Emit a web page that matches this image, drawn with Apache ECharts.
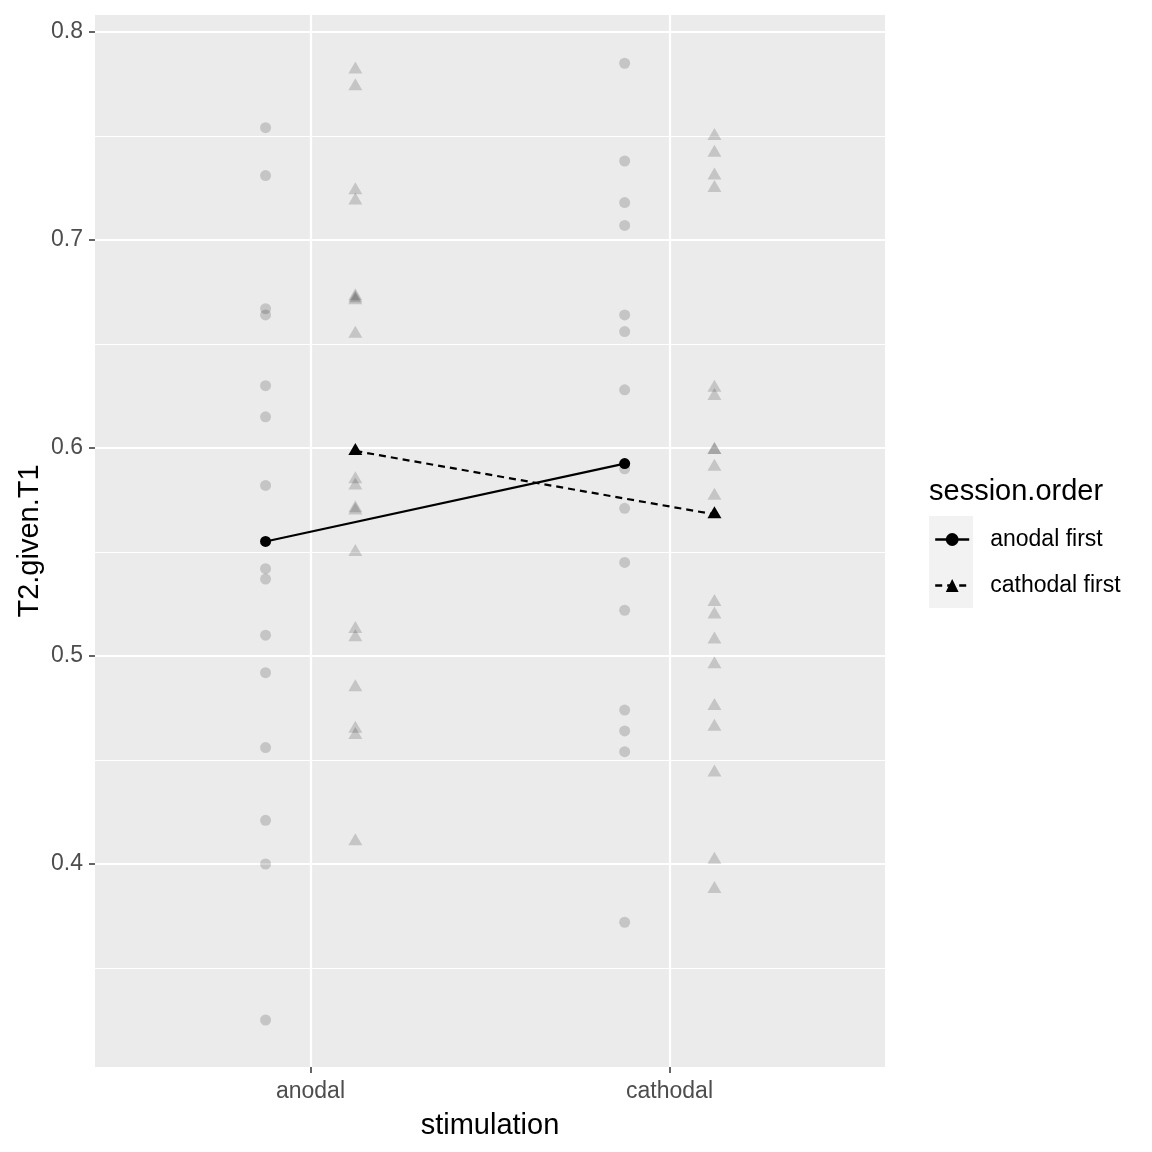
<!DOCTYPE html>
<html>
<head>
<meta charset="utf-8">
<script src="https://cdn.jsdelivr.net/npm/echarts@6/dist/echarts.min.js"></script>
<style>
html,body{margin:0;padding:0;background:#fff;}
#chart{width:1152px;height:1152px;}
</style>
</head>
<body>
<div id="chart"></div>
<script>
// ---- data ----
const categories = ['anodal', 'cathodal'];
const groups = ['anodal first', 'cathodal first'];
const yTicks = [0.4, 0.5, 0.6, 0.7, 0.8];
const yMinor = [0.35, 0.45, 0.55, 0.65, 0.75];

const anodalFirstAnodal = [0.754, 0.731, 0.667, 0.664, 0.630, 0.615, 0.582, 0.542, 0.537, 0.510, 0.492, 0.456, 0.421, 0.400, 0.325];
const anodalFirstCathodal = [0.785, 0.738, 0.718, 0.707, 0.664, 0.656, 0.628, 0.590, 0.571, 0.545, 0.522, 0.474, 0.464, 0.454, 0.372];
const cathodalFirstAnodal = [0.782, 0.774, 0.724, 0.719, 0.673, 0.672, 0.671, 0.655, 0.585, 0.582, 0.571, 0.570, 0.550, 0.513, 0.509, 0.485, 0.465, 0.462, 0.411];
const cathodalFirstCathodal = [0.750, 0.742, 0.731, 0.725, 0.629, 0.625, 0.599, 0.599, 0.591, 0.577, 0.526, 0.520, 0.508, 0.496, 0.476, 0.466, 0.444, 0.402, 0.388];

// ---- helpers ----
const dodge = 0.125;
function xPos(catIdx, groupIdx) { return catIdx + 1 + (groupIdx === 0 ? -dodge : dodge); }
function mean(a) { return a.reduce((s, v) => s + v, 0) / a.length; }
function pts(arr, catIdx, groupIdx) { return arr.map(v => [xPos(catIdx, groupIdx), v]); }

const pointColor = 'rgba(0,0,0,0.2)';
const triSize = [14, 12];
const triOffset = [0, -2];
const FONT = 'Liberation Sans, Arial, sans-serif';

const chart = echarts.init(document.getElementById('chart'), null, {renderer: 'canvas'});

const gridLines = [];
yMinor.forEach(v => gridLines.push({yAxis: v, lineStyle: {color: '#fff', width: 1.1, type: 'solid'}}));
yTicks.forEach(v => gridLines.push({yAxis: v, lineStyle: {color: '#fff', width: 2.2, type: 'solid'}}));
categories.forEach((c, i) => gridLines.push({xAxis: i + 1, lineStyle: {color: '#fff', width: 2.2, type: 'solid'}}));

const option = {
  animation: false,
  backgroundColor: '#fff',
  textStyle: {fontFamily: FONT},
  grid: {left: 95, top: 15, width: 790, height: 1052, show: true, backgroundColor: '#EBEBEB', borderWidth: 0},
  xAxis: {
    type: 'value', min: 0.4, max: 2.6,
    splitLine: {show: false},
    axisLine: {show: false},
    axisTick: {show: true, length: 6, lineStyle: {color: '#333333', width: 1.5}, customValues: [1, 2]},
    axisLabel: {customValues: [1, 2], formatter: v => categories[Math.round(v) - 1] || '', color: '#4D4D4D', fontSize: 23, margin: 13},
    name: 'stimulation', nameLocation: 'middle', nameGap: 44, nameMoveOverlap: false,
    nameTextStyle: {color: '#000', fontSize: 29}
  },
  yAxis: {
    type: 'value', min: 0.3024, max: 0.8082,
    splitLine: {show: false},
    axisLine: {show: false},
    axisTick: {show: true, length: 6, lineStyle: {color: '#333333', width: 1.5}, customValues: yTicks},
    axisLabel: {customValues: yTicks, formatter: v => v.toFixed(1), color: '#4D4D4D', fontSize: 23, margin: 12},
    name: 'T2.given.T1', nameLocation: 'middle', nameGap: 51, nameMoveOverlap: false,
    nameTextStyle: {color: '#000', fontSize: 29}
  },
  legend: {
    data: groups,
    orient: 'vertical',
    left: 934, top: 528,
    itemWidth: 34, itemHeight: 16, itemGap: 23,
    padding: 0,
    z: 10,
    lineStyle: {width: 2.4},
    textStyle: {color: '#000', fontSize: 23, padding: [0, 0, 0, 16]}
  },
  graphic: [
    {type: 'text', x: 929, y: 492, z: 10, style: {text: 'session.order', fontSize: 29, fill: '#000', fontFamily: FONT, verticalAlign: 'middle', align: 'left'}},
    {type: 'rect', shape: {x: 929, y: 516, width: 44, height: 46}, style: {fill: '#F2F2F2'}, z: 0},
    {type: 'rect', shape: {x: 929, y: 562, width: 44, height: 46}, style: {fill: '#F2F2F2'}, z: 0}
  ],
  series: [
    {
      name: 'grid', type: 'scatter', data: [], z: 1, silent: true,
      markLine: {silent: true, z: 1, symbol: ['none', 'none'], label: {show: false}, animation: false, data: gridLines}
    },
    {name: 'pts-af-an', type: 'scatter', z: 3, symbol: 'circle', symbolSize: 11, itemStyle: {color: pointColor}, data: pts(anodalFirstAnodal, 0, 0), silent: true},
    {name: 'pts-af-ca', type: 'scatter', z: 3, symbol: 'circle', symbolSize: 11, itemStyle: {color: pointColor}, data: pts(anodalFirstCathodal, 1, 0), silent: true},
    {name: 'pts-cf-an', type: 'scatter', z: 3, symbol: 'triangle', symbolSize: triSize, symbolOffset: triOffset, itemStyle: {color: pointColor}, data: pts(cathodalFirstAnodal, 0, 1), silent: true},
    {name: 'pts-cf-ca', type: 'scatter', z: 3, symbol: 'triangle', symbolSize: triSize, symbolOffset: triOffset, itemStyle: {color: pointColor}, data: pts(cathodalFirstCathodal, 1, 1), silent: true},
    {
      name: groups[0], type: 'line', z: 6, symbol: 'circle', symbolSize: 11, showSymbol: true,
      itemStyle: {color: '#000'}, lineStyle: {color: '#000', width: 2.2, type: 'solid'},
      data: [[xPos(0, 0), mean(anodalFirstAnodal)], [xPos(1, 0), mean(anodalFirstCathodal)]]
    },
    {
      name: groups[1], type: 'line', z: 6, symbol: 'triangle', symbolSize: triSize, symbolOffset: triOffset, showSymbol: true,
      itemStyle: {color: '#000'}, lineStyle: {color: '#000', width: 2.2, type: [7, 5]},
      data: [[xPos(0, 1), mean(cathodalFirstAnodal)], [xPos(1, 1), mean(cathodalFirstCathodal)]]
    }
  ]
};
chart.setOption(option);
</script>
</body>
</html>
